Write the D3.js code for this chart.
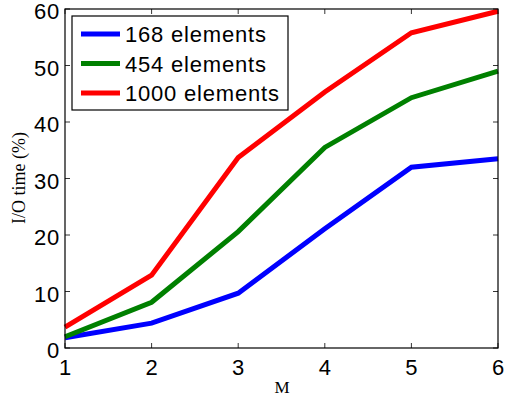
<!DOCTYPE html>
<html>
<head>
<meta charset="utf-8">
<script src="https://cdn.jsdelivr.net/npm/d3@7"></script>
<style>
  body { margin: 0; background: #fff; }
  svg { display: block; }
</style>
</head>
<body>
<div id="chart-area"></div>
<script>
// data
let mValues = [1, 2, 3, 4, 5, 6]
let yTicks = [0, 10, 20, 30, 40, 50, 60]
let seriesNames = ["168 elements", "454 elements", "1000 elements"]
let seriesColors = ["#0000ff", "#008000", "#ff0000"]
let io168 = [1.8, 4.4, 9.7, 21.1, 32.0, 33.5]
let io454 = [2.0, 8.1, 20.6, 35.5, 44.3, 49.0]
let io1000 = [3.7, 12.9, 33.7, 45.3, 55.8, 59.6]
let series = [io168, io454, io1000]

let width = 505, height = 403
let plotLeft = 65, plotRight = 498, plotTop = 9, plotBottom = 348
let sans = "Liberation Sans, Arial, sans-serif"
let serif = "Liberation Serif, Times New Roman, serif"

let svg = d3.select("#chart-area").append("svg")
            .attr("width", width)
            .attr("height", height)

let x = d3.scaleLinear().domain([1, 6]).range([plotLeft, plotRight])
let y = d3.scaleLinear().domain([0, 60]).range([plotBottom, plotTop])

// tick marks (inward, mirrored on top and right)
let tickLen = 5
let tickG = svg.append("g").attr("stroke", "#000").attr("stroke-width", 0.8)
mValues.forEach(d => {
  tickG.append("line").attr("x1", x(d)).attr("x2", x(d)).attr("y1", plotBottom).attr("y2", plotBottom - tickLen)
  tickG.append("line").attr("x1", x(d)).attr("x2", x(d)).attr("y1", plotTop).attr("y2", plotTop + tickLen)
})
yTicks.forEach(d => {
  tickG.append("line").attr("x1", plotLeft).attr("x2", plotLeft + tickLen).attr("y1", y(d)).attr("y2", y(d))
  tickG.append("line").attr("x1", plotRight).attr("x2", plotRight - tickLen).attr("y1", y(d)).attr("y2", y(d))
})

// lines
let line = d3.line()
             .x((d, i) => x(mValues[i]))
             .y(d => y(d))

svg.selectAll("path.series")
   .data(series)
   .enter()
   .append("path")
   .attr("class", "series")
   .attr("d", d => line(d))
   .attr("fill", "none")
   .attr("stroke", (d, i) => seriesColors[i])
   .attr("stroke-width", 5)
   .attr("stroke-linejoin", "miter")

// frame
svg.append("rect")
   .attr("x", plotLeft).attr("y", plotTop)
   .attr("width", plotRight - plotLeft).attr("height", plotBottom - plotTop)
   .attr("fill", "none").attr("stroke", "#000").attr("stroke-width", 1.2)

// tick labels
svg.selectAll("text.xtick")
   .data(mValues)
   .enter()
   .append("text")
   .attr("x", d => x(d))
   .attr("y", 375)
   .attr("text-anchor", "middle")
   .attr("font-family", sans)
   .attr("font-size", 22)
   .text(d => d)

svg.selectAll("text.ytick")
   .data(yTicks)
   .enter()
   .append("text")
   .attr("x", 60)
   .attr("y", d => y(d) + 10)
   .attr("text-anchor", "end")
   .attr("font-family", sans)
   .attr("font-size", 22)
   .attr("letter-spacing", 0.8)
   .text(d => d)

// axis titles
svg.append("text")
   .attr("x", 282).attr("y", 393)
   .attr("text-anchor", "middle")
   .attr("font-family", serif)
   .attr("font-size", 17)
   .text("M")

svg.append("text")
   .attr("transform", "translate(25,178) rotate(-90)")
   .attr("text-anchor", "middle")
   .attr("font-family", serif)
   .attr("font-size", 18)
   .text("I/O time (%)")

// legend
let legend = svg.append("g")
legend.append("rect")
      .attr("x", 72).attr("y", 16)
      .attr("width", 216).attr("height", 94)
      .attr("fill", "#fff").attr("stroke", "#000").attr("stroke-width", 1.2)

let rows = legend.selectAll("g.row")
                 .data(seriesNames)
                 .enter()
                 .append("g")
                 .attr("transform", (d, i) => "translate(0," + (34 + i * 29.5) + ")")
rows.append("line")
    .attr("x1", 81).attr("x2", 120)
    .attr("y1", 0).attr("y2", 0)
    .attr("stroke", (d, i) => seriesColors[i])
    .attr("stroke-width", 5)
rows.append("text")
    .attr("x", 125).attr("y", 8)
    .attr("font-family", sans)
    .attr("font-size", 22)
    .attr("letter-spacing", 0.8)
    .text(d => d)
</script>
</body>
</html>
